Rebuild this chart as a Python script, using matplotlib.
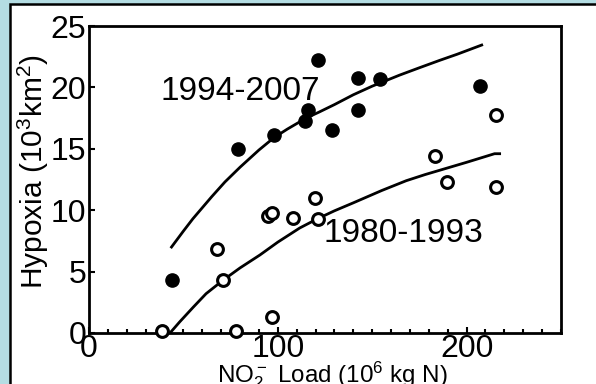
import matplotlib.pyplot as plt
from matplotlib.patches import Rectangle
from matplotlib.ticker import MultipleLocator

plt.rcParams['font.family'] = ['Liberation Sans', 'DejaVu Sans']
plt.rcParams['mathtext.default'] = 'regular'

# 1994-2007 (filled)
load_late = [44, 79, 97.9, 114.3, 116, 121.3, 128.7, 142.5, 142.5, 154, 206.9]
hyp_late = [4.3, 15.0, 16.1, 17.3, 18.2, 22.2, 16.5, 20.8, 18.2, 20.7, 20.1]

# 1980-1993 (open)
load_early = [38.5, 67.9, 71.1, 77.8, 94.9, 96.7, 96.7, 108, 119.6, 121.3, 183, 189.8, 215.7, 215.7]
hyp_early = [0.16, 6.8, 4.3, 0.16, 9.5, 9.75, 1.3, 9.4, 11.0, 9.25, 14.4, 12.3, 17.75, 11.9]

# fitted curves
fit_late_x = [43.7, 50, 55, 60, 65, 72, 80, 90, 97.9, 105, 115, 122, 130,
              140, 150, 164.5, 175, 185.7, 195, 208]
fit_late_y = [7.0, 8.3, 9.3, 10.2, 11.1, 12.3, 13.5, 14.9, 15.9, 16.6, 17.5,
              18.0, 18.6, 19.4, 20.1, 21.0, 21.6, 22.2, 22.7, 23.45]
fit_early_x = [42.9, 48, 55.2, 62, 71, 80, 90.5, 100, 111.6, 121, 130, 140,
               155, 168, 178, 189, 200, 214.8, 217.5]
fit_early_y = [0.0, 0.9, 2.1, 3.2, 4.3, 5.3, 6.35, 7.4, 8.55, 9.3, 9.95, 10.6,
               11.6, 12.4, 12.9, 13.4, 13.9, 14.6, 14.6]

W, H = 596, 384
fig = plt.figure(figsize=(W / 100, H / 100), dpi=100)
fig.patch.set_facecolor('#b4dde3')

# white panel with black border, behind the axes
panel = Rectangle((10 / W, -0.05), 1.1, (H - 4) / H + 0.05,
                  transform=fig.transFigure, facecolor='white',
                  edgecolor='black', linewidth=1.8, zorder=-10)
fig.add_artist(panel)

ax = fig.add_axes([89 / W, (H - 333) / H, (561 - 89) / W, (333 - 26) / H])
ax.set_facecolor('white')

ax.plot(fit_late_x, fit_late_y, color='black', lw=2, zorder=2)
ax.plot(fit_early_x, fit_early_y, color='black', lw=2, zorder=2)
ax.plot(load_late, hyp_late, 'o', color='black', ms=9.5, zorder=3, clip_on=False)
ax.plot(load_early, hyp_early, 'o', mfc='white', mec='black', mew=2.2, ms=8.5,
        zorder=3, clip_on=False)

ax.text(80, 18.97, '1994-2007', fontsize=24, ha='center', va='baseline')
ax.text(166.7, 7.39, '1980-1993', fontsize=24, ha='center', va='baseline')

ax.set_xlim(0, 250)
ax.set_ylim(0, 25)
ax.set_xticks([0, 100, 200])
ax.set_yticks([0, 5, 10, 15, 20, 25])
ax.xaxis.set_minor_locator(MultipleLocator(10))
ax.tick_params(axis='both', which='both', direction='in', width=1.5,
               top=False, right=False, labelsize=23)
ax.tick_params(axis='both', which='major', length=4)
ax.tick_params(axis='x', which='minor', length=3)
ax.tick_params(axis='x', pad=1)
ax.tick_params(axis='y', pad=2)
for s in ax.spines.values():
    s.set_linewidth(2)

fig.text(33 / W, 1 - 172 / H, r'Hypoxia (10$^3$km$^2$)', rotation=90,
         fontsize=21.5, ha='center', va='center')
fig.text(332 / W, 2 / H, r'NO$_2^-$ Load (10$^6$ kg N)', fontsize=17.4,
         ha='center', va='baseline')

fig.savefig('out.png', dpi=100)
